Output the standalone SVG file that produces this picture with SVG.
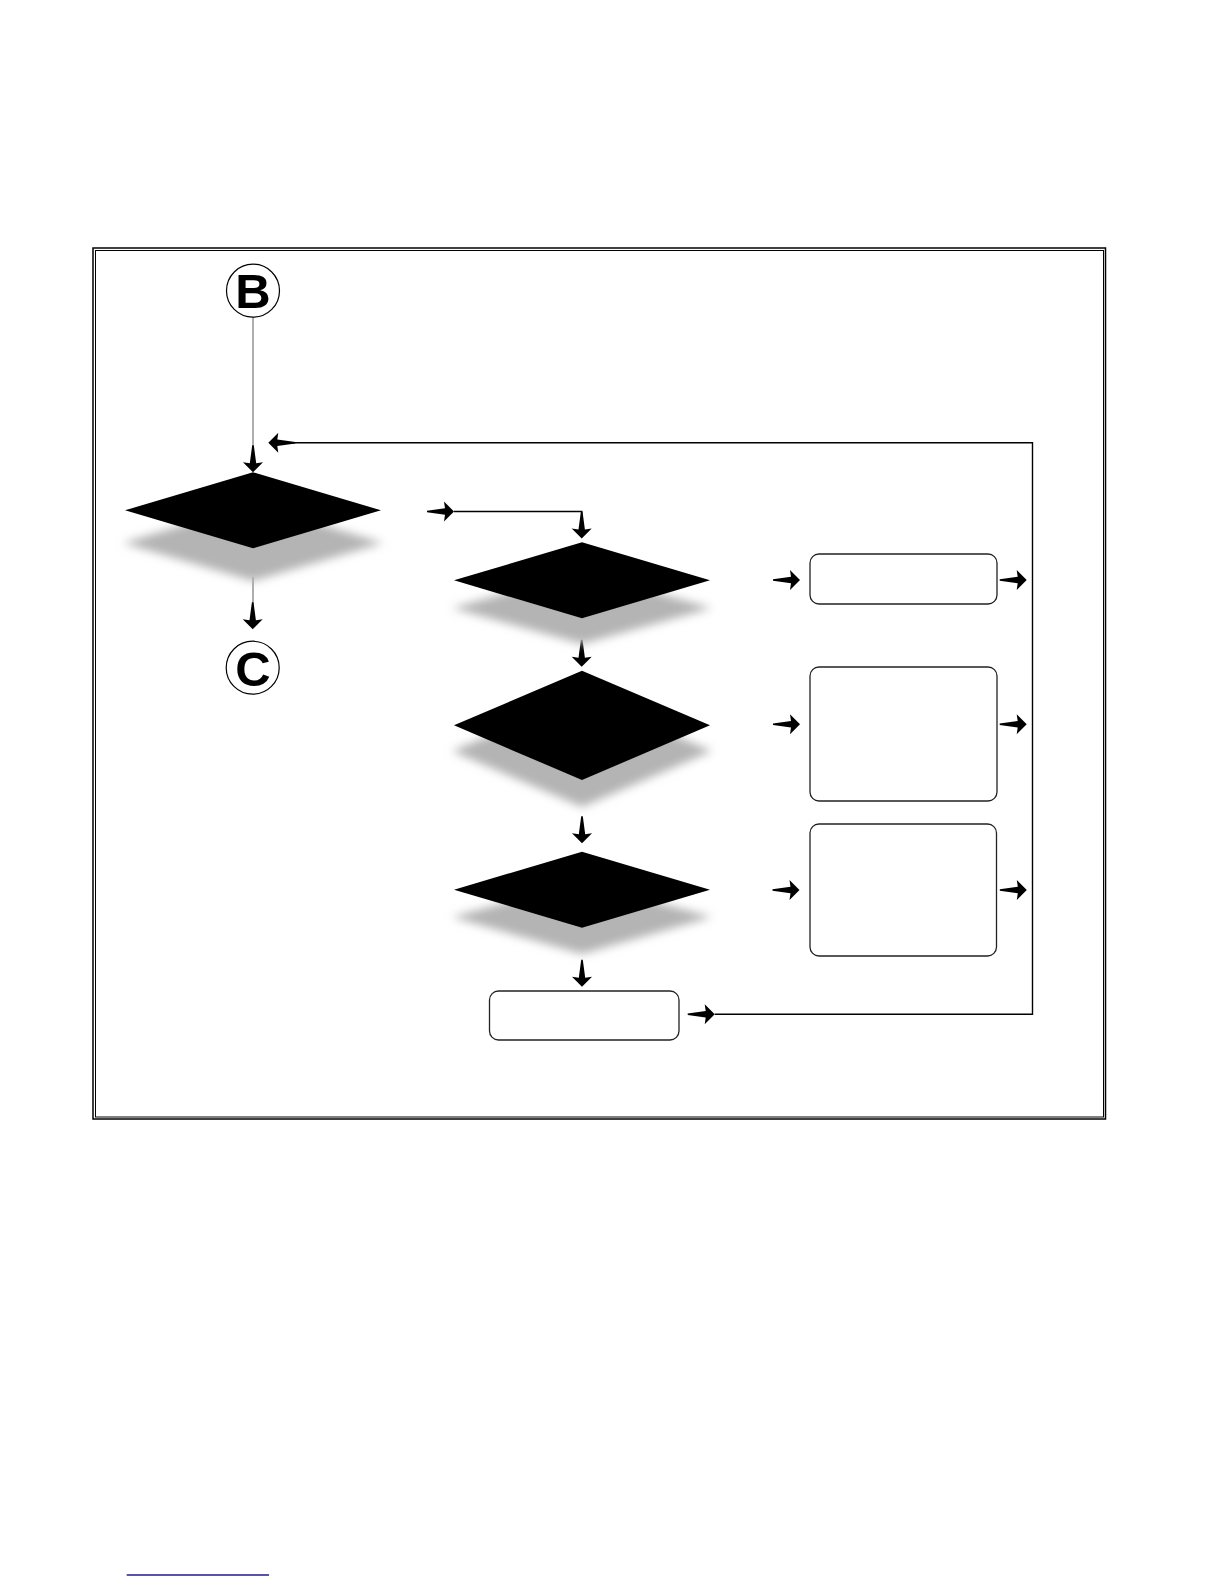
<svg xmlns="http://www.w3.org/2000/svg" xmlns:xlink="http://www.w3.org/1999/xlink" width="1224" height="1584" viewBox="0 0 1224 1584">
  <style>
    .frame { fill: none; stroke: #000; }
    .dia { fill: #000; }
    .shadow { fill: #b4b4b4; filter: url(#blur); }
    .box { fill: #fff; stroke: #222; stroke-width: 1.3; }
    .circ { fill: #fff; stroke: #000; stroke-width: 1.2; }
    .letter { font-family: "Liberation Sans", Arial, sans-serif; font-weight: bold; font-size: 49px; text-anchor: middle; fill: #000; }
    .conn { fill: none; stroke: #000; stroke-width: 1.4; }
    .gray { fill: none; stroke: #9a9a9a; stroke-width: 1.6; }
    .ah { fill: #000; }
  </style>
  <defs>
    <filter id="blur" x="-20%" y="-50%" width="140%" height="200%">
      <feGaussianBlur stdDeviation="5"/>
    </filter>
    <path id="arrow" class="ah" d="M0,0 L-10,-10 L-9,-3.2 L-27,-0.8 L-27,0.8 L-9,3.2 L-10,10 Z"/>
  </defs>
  <rect width="1224" height="1584" fill="#fff"/>

  <g id="frame">
    <rect class="frame" x="93" y="248" width="1012.5" height="871" stroke-width="1.5"/>
    <rect class="frame" x="95.5" y="250.5" width="1008" height="866.5" stroke-width="1"/>
  </g>

  <g id="connectors">
    <line class="gray" x1="253" y1="317" x2="253" y2="460"/>
    <line class="gray" x1="253" y1="577" x2="253" y2="615"/>
    <path class="conn" d="M454,511.5 H581.7 V525"/>
    <path class="conn" d="M714.7,1014.3 H1032.5 V442.7 H275"/>
    <use xlink:href="#arrow" transform="translate(253,472.3) rotate(90)"/>
    <use xlink:href="#arrow" transform="translate(268.3,442.7) rotate(180)"/>
    <use xlink:href="#arrow" transform="translate(454,511.5)"/>
    <use xlink:href="#arrow" transform="translate(581.7,538.5) rotate(90)"/>
    <use xlink:href="#arrow" transform="translate(252.7,629.3) rotate(90)"/>
    <use xlink:href="#arrow" transform="translate(581.7,666.7) rotate(90)"/>
    <use xlink:href="#arrow" transform="translate(582,843.3) rotate(90)"/>
    <use xlink:href="#arrow" transform="translate(582,986.7) rotate(90)"/>
    <use xlink:href="#arrow" transform="translate(800,580)"/>
    <use xlink:href="#arrow" transform="translate(1026.7,580)"/>
    <use xlink:href="#arrow" transform="translate(800,724.3)"/>
    <use xlink:href="#arrow" transform="translate(1026.7,724.3)"/>
    <use xlink:href="#arrow" transform="translate(799.5,890)"/>
    <use xlink:href="#arrow" transform="translate(1026.8,890)"/>
    <use xlink:href="#arrow" transform="translate(714.7,1014.3)"/>
  </g>

  <g id="node-B">
    <circle class="circ" cx="253" cy="290.7" r="26.5"/>
    <text class="letter" x="253" y="308">B</text>
  </g>

  <g id="decision-1">
    <polygon class="shadow" points="253,504 383,543 253,581 123,543"/>
    <polygon class="dia" points="253,472.3 381,510.3 253,548.3 125,510.3"/>
  </g>

  <g id="node-C">
    <circle class="circ" cx="252.7" cy="667.7" r="26.5"/>
    <text class="letter" x="253" y="685.5">C</text>
  </g>

  <g id="decision-2">
    <polygon class="shadow" points="582,572 712,608 582,644 452,608"/>
    <polygon class="dia" points="582,542.3 710,580.3 582,618.3 454,580.3"/>
  </g>

  <g id="decision-3">
    <polygon class="shadow" points="582,697 712,751 582,807 452,751"/>
    <polygon class="dia" points="582,670.7 710,725.3 582,780 454,725.3"/>
  </g>

  <g id="decision-4">
    <polygon class="shadow" points="582,882 712,917 582,954 452,917"/>
    <polygon class="dia" points="582,851.7 710,889.7 582,927.7 454,889.7"/>
  </g>

  <g id="process-1">
    <rect class="box" x="810" y="554" width="187" height="50" rx="9"/>
  </g>
  <g id="process-2">
    <rect class="box" x="810" y="667" width="187" height="134" rx="9"/>
  </g>
  <g id="process-3">
    <rect class="box" x="810" y="824" width="186.5" height="132" rx="9"/>
  </g>
  <g id="process-4">
    <rect class="box" x="489.5" y="991" width="189.5" height="49" rx="9"/>
  </g>

  <line x1="126.7" y1="1575" x2="269" y2="1575" stroke="#1c1c96" stroke-width="1.4"/>
</svg>
